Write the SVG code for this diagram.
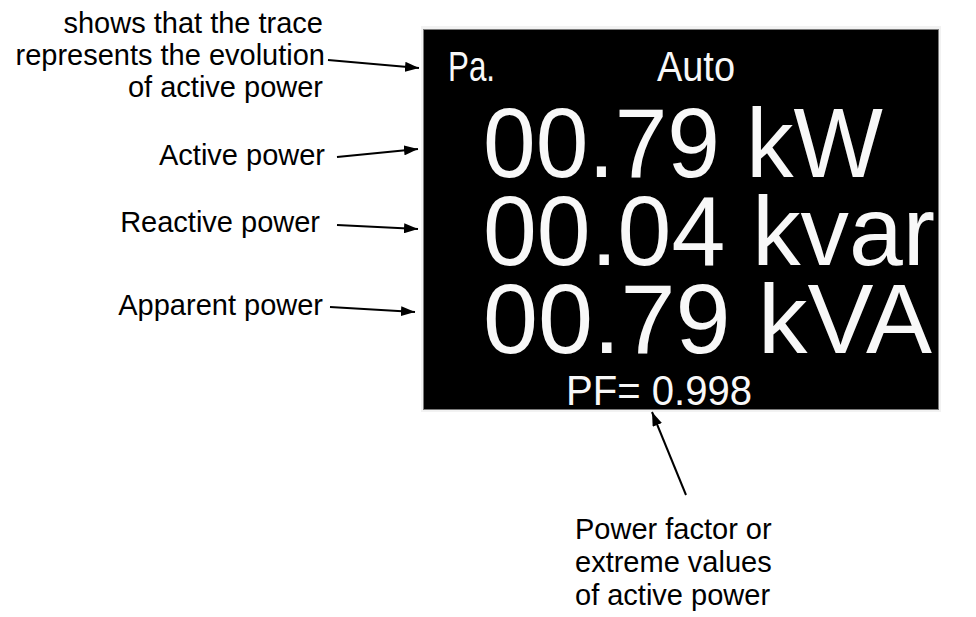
<svg xmlns="http://www.w3.org/2000/svg" width="976" height="617" viewBox="0 0 976 617">
<style>
.lbl{font-family:"Liberation Sans",Arial,sans-serif;font-size:29px;fill:#000}
.scr{font-family:"Liberation Sans",Arial,sans-serif;fill:#f8f8f8}
.big{font-size:99px}
.sm{font-size:43px}
.con{stroke:#000;stroke-width:2;fill:none}
</style>
<defs>
<marker id="ah" viewBox="0 0 14 10" refX="14" refY="5" markerWidth="14" markerHeight="10" markerUnits="userSpaceOnUse" orient="auto">
<path d="M0,0 L14,5 L0,10 Z" fill="#000"/>
</marker>
</defs>
<rect width="976" height="617" fill="#fff"/>
<g id="screen">
<rect x="421" y="26" width="520" height="386" fill="#f2f2f2"/>
<rect x="423.5" y="29.5" width="515" height="380" fill="#000" stroke="#7a7a7a" stroke-width="1"/>
<text class="scr sm" x="448" y="81" textLength="47" lengthAdjust="spacingAndGlyphs">Pa.</text>
<text class="scr sm" x="657" y="81" textLength="78" lengthAdjust="spacingAndGlyphs">Auto</text>
<text class="scr big" x="483" y="177" textLength="400" lengthAdjust="spacingAndGlyphs">00.79 kW</text>
<text class="scr big" x="483" y="265" textLength="452" lengthAdjust="spacingAndGlyphs">00.04 kvar</text>
<text class="scr big" x="483" y="353" textLength="449" lengthAdjust="spacingAndGlyphs">00.79 kVA</text>
<text class="scr sm" x="566" y="405" textLength="186" lengthAdjust="spacingAndGlyphs">PF= 0.998</text>
</g>
<g id="label-trace">
<text class="lbl" text-anchor="end"><tspan x="323" y="33">shows that the trace</tspan><tspan x="325" y="65">represents the evolution</tspan><tspan x="323" y="97">of active power</tspan></text>
</g>
<g id="label-active"><text class="lbl" x="325" y="165" text-anchor="end">Active power</text></g>
<g id="label-reactive"><text class="lbl" x="320" y="232" text-anchor="end">Reactive power</text></g>
<g id="label-apparent"><text class="lbl" x="323" y="315" text-anchor="end">Apparent power</text></g>
<g id="label-pf"><text class="lbl"><tspan x="575" y="539">Power factor or</tspan><tspan x="575" y="572">extreme values</tspan><tspan x="575" y="605">of active power</tspan></text></g>
<g id="connectors">
<line class="con" x1="328" y1="60" x2="419" y2="68" marker-end="url(#ah)"/>
<line class="con" x1="337" y1="157" x2="418" y2="149" marker-end="url(#ah)"/>
<line class="con" x1="337" y1="225" x2="418" y2="229" marker-end="url(#ah)"/>
<line class="con" x1="330" y1="307" x2="415" y2="312" marker-end="url(#ah)"/>
<line class="con" x1="686" y1="495" x2="652" y2="412" marker-end="url(#ah)"/>
</g>
</svg>
